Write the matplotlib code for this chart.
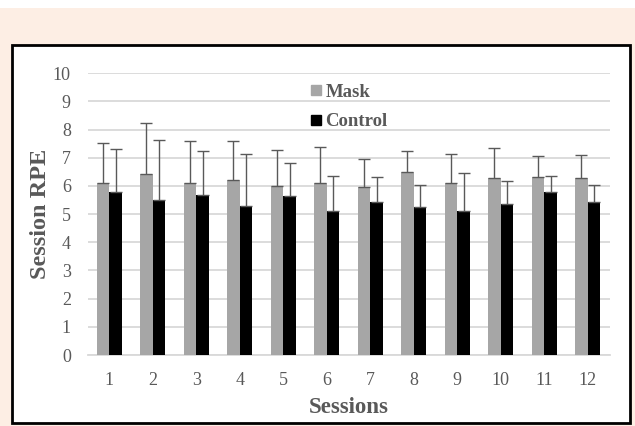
import numpy as np
import matplotlib
matplotlib.use('Agg')
import matplotlib.pyplot as plt
from matplotlib.lines import Line2D
from matplotlib.patches import Rectangle

# Session RPE per session (mean and upper SD end)
sessions = ['1', '2', '3', '4', '5', '6', '7', '8', '9', '10', '11', '12']
mask_mean = [6.09, 6.44, 6.09, 6.22, 6.01, 6.09, 5.98, 6.49, 6.09, 6.27, 6.32, 6.27]
mask_top = [7.54, 8.22, 7.59, 7.61, 7.28, 7.37, 6.97, 7.24, 7.15, 7.36, 7.05, 7.10]
control_mean = [5.78, 5.51, 5.69, 5.30, 5.64, 5.12, 5.43, 5.27, 5.12, 5.35, 5.78, 5.43]
control_top = [7.33, 7.62, 7.24, 7.15, 6.82, 6.34, 6.31, 6.05, 6.47, 6.18, 6.34, 6.05]

mask_sd = np.array(mask_top) - np.array(mask_mean)
control_sd = np.array(control_top) - np.array(control_mean)

plt.rcParams['font.family'] = ['Liberation Serif', 'DejaVu Serif']
text_col = '#595959'

fig = plt.figure(figsize=(6.35, 4.26), dpi=100)
fig.patch.set_facecolor('#fdeee4')
# white strip at the top and white framed chart box
fig.patches.append(Rectangle((0, 1 - 8 / 426), 1, 8 / 426, transform=fig.transFigure,
                             facecolor='white', edgecolor='none', zorder=-2))
fig.patches.append(Rectangle((11.5 / 635, 3 / 426), 618.5 / 635, 378 / 426,
                             transform=fig.transFigure, facecolor='white',
                             edgecolor='black', linewidth=2, zorder=-2))

ax = fig.add_axes([87.5 / 635, 71 / 426, 522 / 635, 281.7 / 426])
ax.set_zorder(1)
ax.set_facecolor('none')

x = np.arange(len(sessions))
w = 0.29
err_kw = dict(ecolor=text_col, elinewidth=1, capsize=4, capthick=1)
ax.bar(x - w / 2, mask_mean, w, color='#a6a6a6', zorder=3,
       yerr=[np.zeros(len(x)), mask_sd], error_kw=err_kw)
ax.bar(x + w / 2, control_mean, w, color='black', zorder=3,
       yerr=[np.zeros(len(x)), control_sd], error_kw=err_kw)

ax.set_xlim(-0.5, len(sessions) - 0.5)
ax.set_ylim(0, 10)
ax.set_yticks(range(0, 11))
ax.set_xticks(x)
ax.set_xticklabels(sessions)
ax.yaxis.grid(True, color='#d9d9d9', linewidth=1.3, zorder=0)
ax.set_axisbelow(True)
for s in ['top', 'right', 'left']:
    ax.spines[s].set_visible(False)
ax.spines['bottom'].set_color('#d9d9d9')
ax.spines['bottom'].set_linewidth(1.3)
ax.tick_params(length=0, labelsize=13, labelcolor=text_col)
ax.tick_params(axis='x', pad=12)
ax.tick_params(axis='y', pad=12)

ax.set_xlabel('Sessions', fontsize=16.5, fontweight='bold', color=text_col, labelpad=6)
ax.set_ylabel('Session RPE', fontsize=17.5, fontweight='bold', color=text_col, labelpad=1)

handles = [Line2D([], [], marker='s', linestyle='none', color='#a6a6a6', markersize=7),
           Line2D([], [], marker='s', linestyle='none', color='black', markersize=7)]
leg = ax.legend(handles, ['Mask', 'Control'], loc='upper left',
                bbox_to_anchor=(0.391, 1.023), frameon=False, handletextpad=0.1,
                handlelength=0.8, labelspacing=0.65,
                prop={'family': 'Liberation Serif', 'weight': 'bold', 'size': 13.5})
for t in leg.get_texts():
    t.set_color(text_col)

fig.savefig('out.png', dpi=100, facecolor=fig.get_facecolor())
